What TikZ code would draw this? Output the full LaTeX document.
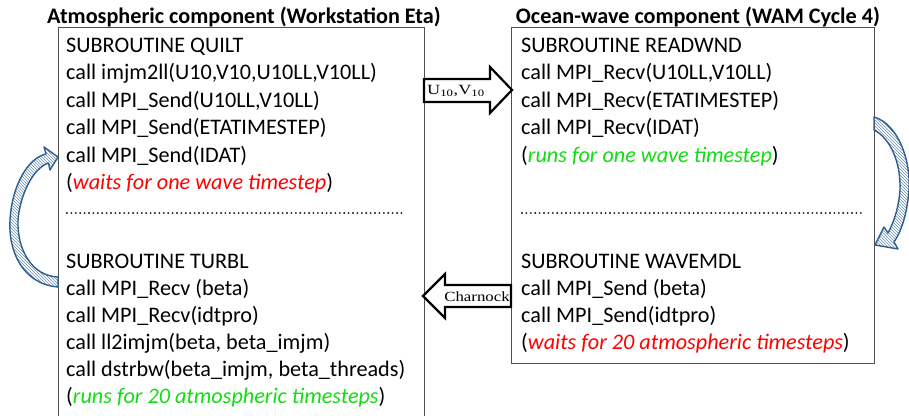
\documentclass[tikz,border=0pt]{standalone}
\usepackage{fontspec}
\setmainfont{Carlito}
\newfontfamily\timesfont{Liberation Serif}
\usetikzlibrary{patterns}
\definecolor{framegray}{HTML}{505050}
\definecolor{curveblue}{HTML}{2E5E8E}
\definecolor{waitred}{HTML}{FF0000}
\definecolor{rungreen}{HTML}{11DD11}
\newcommand{\waits}[1]{({\color{waitred}\itshape #1})}
\newcommand{\runs}[1]{({\color{rungreen}\itshape #1})}
\begin{document}
\begin{tikzpicture}[x=1pt,y=-1pt,
  code/.style={anchor=base west, inner sep=0pt, font=\fontsize{22.2}{26}\selectfont},
  title/.style={anchor=base, inner sep=0pt, font=\bfseries\fontsize{22.2}{24}\selectfont},
  frame/.style={draw=framegray, line width=0.9pt, rectangle, inner sep=0pt, anchor=north west},
  block/.style={draw=black, line width=2.2pt, fill=white, line join=miter},
  blocklabel/.style={inner sep=0pt, font=\timesfont\fontsize{14}{14}\selectfont},
  bent/.style={draw=curveblue, line width=1.4pt, line join=round, pattern=north west lines, pattern color=curveblue!70},
  dotrow/.style={draw=black!90, line width=2.1pt, line cap=round, dash pattern=on 0pt off 4.4pt}]
\useasboundingbox (0,0) rectangle (909,415);
\clip (0,0) rectangle (909,415);

% component frames
\node[frame, minimum width=366pt, minimum height=420pt] (atm) at (58,27) {};
\node[frame, minimum width=363pt, minimum height=336pt] (ocean) at (511,27) {};

% headings
\node[title] (atmtitle) at (244,23) {Atmospheric component (Workstation Eta)};
\node[title] (oceantitle) at (698,23) {Ocean-wave component (WAM Cycle 4)};

% atmospheric code
\node[code] (quilt) at (66,52)    {SUBROUTINE QUILT};
\node[code] (qa) at (66,79.5)     {call imjm2ll(U10,V10,U10LL,V10LL)};
\node[code] (qb) at (66,107)      {call MPI\_Send(U10LL,V10LL)};
\node[code] (qc) at (66,134.5)    {call MPI\_Send(ETATIMESTEP)};
\node[code] (qd) at (66,162)      {call MPI\_Send(IDAT)};
\node[code] (qe) at (66,189.5)    {\waits{waits for one wave timestep}};
\draw[dotrow] (67,213) -- (403,213);
\node[code] (turbl) at (66,268)   {SUBROUTINE TURBL};
\node[code] (ta) at (66,295)      {call MPI\_Recv (beta)};
\node[code] (tb) at (66,322)      {call MPI\_Recv(idtpro)};
\node[code] (tc) at (66,349)      {call ll2imjm(beta, beta\_imjm)};
\node[code] (td) at (66,376)      {call dstrbw(beta\_imjm, beta\_threads)};
\node[code] (te) at (66,403)      {\runs{runs for 20 atmospheric timesteps}};

% ocean-wave code
\node[code] (readwnd) at (521,52) {SUBROUTINE READWND};
\node[code] (ra) at (521,79.5)    {call MPI\_Recv(U10LL,V10LL)};
\node[code] (rb) at (521,107)     {call MPI\_Recv(ETATIMESTEP)};
\node[code] (rc) at (521,134.5)   {call MPI\_Recv(IDAT)};
\node[code] (rd) at (521,162)     {\runs{runs for one wave timestep}};
\draw[dotrow] (522,213) -- (862,213);
\node[code] (wavemdl) at (521,268) {SUBROUTINE WAVEMDL};
\node[code] (wa) at (521,295)     {call MPI\_Send (beta)};
\node[code] (wb) at (521,322)     {call MPI\_Send(idtpro)};
\node[code] (wc) at (521,349)     {\waits{waits for 20 atmospheric timesteps}};

% exchange arrows between the components
\draw[block] (424,79) -- (490,79) -- (490,67) -- (512,90) -- (490,113) -- (490,102) -- (424,102) -- cycle;
\node[blocklabel] (uv) at (456,91) {\scalebox{1.3}[1]{U\textsubscript{10},V\textsubscript{10}}};
\draw[block] (511,285) -- (445,285) -- (445,274) -- (423,296) -- (445,318) -- (445,307) -- (511,307) -- cycle;
\node[blocklabel] (charnock) at (477,297) {\scalebox{1.2}[1]{Charnock}};

% loop arrows
\draw[bent] (58,287) .. controls (22,284) and (8,250) .. (10,220)
  .. controls (12,185) and (28,158) .. (46,154) -- (44,147) -- (58,157) -- (50,170) -- (48.5,163)
  .. controls (33,168) and (20,195) .. (18,220)
  .. controls (17,250) and (32,276) .. (58,277) -- cycle;
\draw[bent] (874,117) .. controls (898,124) and (911,160) .. (909,190)
  .. controls (907,215) and (901,232) .. (894,242) -- (898,249) -- (875,245) -- (884,227) -- (888,233)
  .. controls (895,220) and (899,205) .. (900,190)
  .. controls (901,162) and (890,138) .. (874,130) -- cycle;
\end{tikzpicture}
\end{document}
